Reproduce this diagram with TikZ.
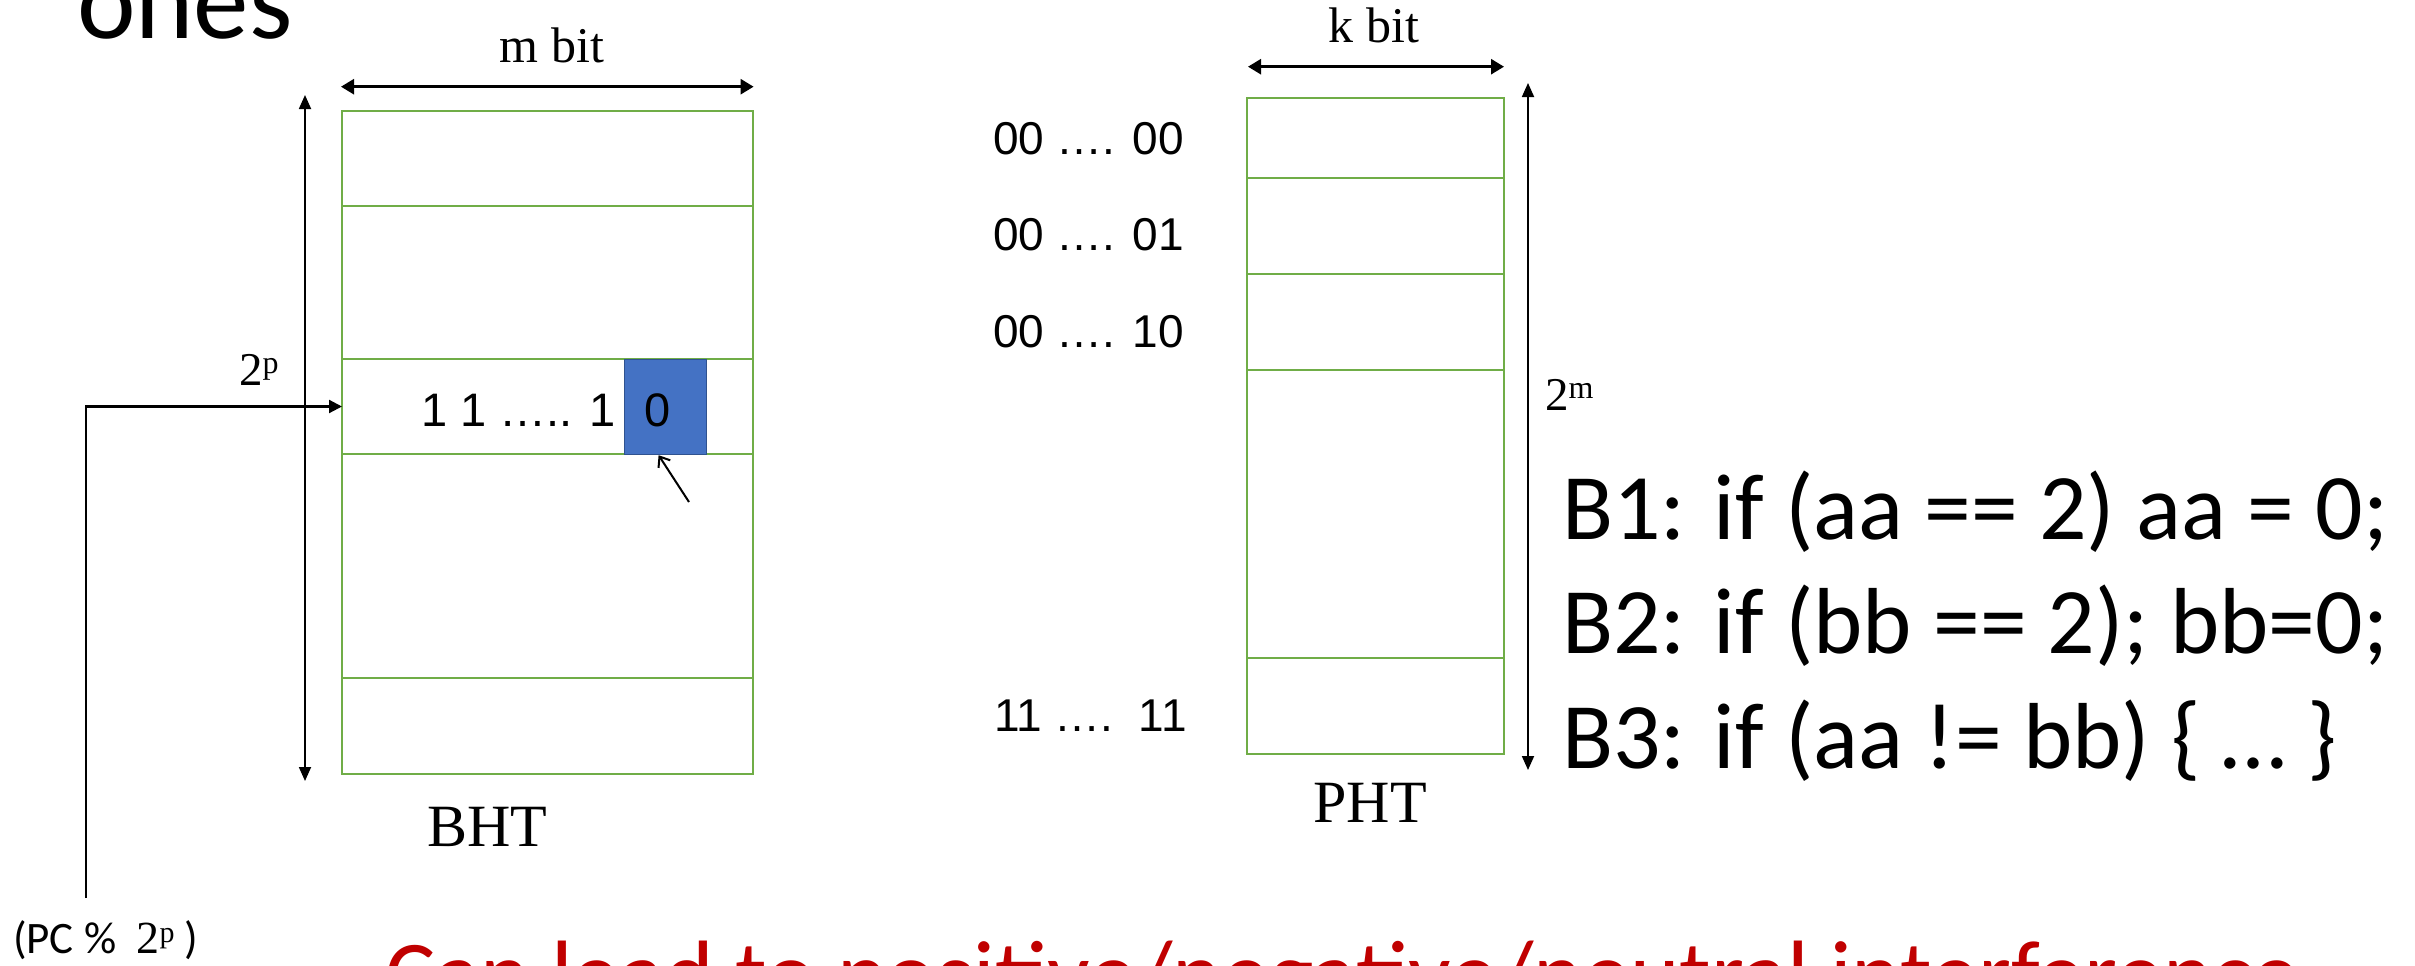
\documentclass[tikz,border=0pt]{standalone}
\usepackage{fontspec}
\usetikzlibrary{arrows.meta}
\newfontfamily\calib{Carlito}
\newfontfamily\arialf{Liberation Sans}
\newfontfamily\cambr{Liberation Serif}
\definecolor{tabgreen}{HTML}{70AD47}
\definecolor{cellblue}{HTML}{4472C4}
\definecolor{celledge}{HTML}{2F528F}
\definecolor{warnred}{HTML}{C00000}
\newcommand\fsz[1]{\fontsize{#1pt}{#1pt}\selectfont}
\begin{document}
\begin{tikzpicture}[x=1pt,y=-1pt,
  txt/.style={inner sep=0pt, outer sep=0pt, anchor=base west},
  ctxt/.style={inner sep=0pt, outer sep=0pt, anchor=base},
  tabrow/.style={draw=tabgreen, line width=2.8pt, inner sep=0pt, outer sep=0pt,
                 anchor=north west, rectangle},
  dimh/.style={line width=2.6pt,
     {Triangle[length=13pt,width=15pt]}-{Triangle[length=13pt,width=15pt]}},
  dimv/.style={line width=1.8pt,
     {Triangle[length=14pt,width=12pt]}-{Triangle[length=14pt,width=12pt]}},
  feed/.style={line width=2.2pt, -{Triangle[length=13pt,width=13pt]}},
  pointer/.style={line width=2pt, -{Straight Barb[length=9pt,width=14pt]}},
  serif/.style={font=\cambr\fsz{#1}},
  sans/.style={font=\arialf\fsz{#1}},
  calibri/.style={font=\calib\fsz{#1}},
]
\useasboundingbox (0,0) rectangle (2415,966);
\clip (0,0) rectangle (2415,966);

% heading fragment
\node[txt, calibri=111] (title) at (77,39) {ones};

% ---------- branch history table ----------
\node[tabrow, minimum width=411pt, minimum height=95pt]  (b1row) at (342,111) {};
\node[tabrow, minimum width=411pt, minimum height=153pt] (b2row) at (342,206) {};
\node[tabrow, minimum width=411pt, minimum height=95pt]  (b3row) at (342,359) {};
\node[tabrow, minimum width=411pt, minimum height=224pt] (b4row) at (342,454) {};
\node[tabrow, minimum width=411pt, minimum height=96pt]  (b5row) at (342,678) {};
\node[fill=cellblue, draw=celledge, line width=1.2pt, anchor=north west,
      minimum width=82pt, minimum height=95pt, inner sep=0pt] (cell0) at (624,359) {};
\node[txt, sans=47] (ones) at (421,426) {1 1 ….. 1};
\node[ctxt, sans=47] (zero) at (658,426) {0};

% width / height dimensions of the BHT
\coordinate (mL) at (341,86.7);
\coordinate (mR) at (753.6,86.7);
\draw[dimh] (mL) -- (mR);
\node[ctxt, serif=50] (mbit) at (552,63) {m bit};
\coordinate (bT) at (305,95);
\coordinate (bB) at (305,781);
\draw[dimv] (bT) -- (bB);
\node[txt, serif=47] (twop) at (239,385) {2\raisebox{12pt}{\fsz{32}p}};
\node[ctxt, serif=60] (bhtlbl) at (487,846) {BHT};

% PC index feeding the selected row
\coordinate (pcfoot) at (85.7,898);
\draw[feed] (pcfoot) |- (b3row.west);
\node[txt] (pclbl) at (13,953)
  {{\calib\fsz{45}(PC \%\ \ }{\cambr\fsz{46}2\raisebox{11pt}{\fsz{30}p}}{\calib\fsz{45}\ )}};

% pointer to the newest history bit
\coordinate (ptr) at (689,502);
\draw[pointer] (ptr) -- ([xshift=-7pt]cell0.south);

% ---------- pattern history table ----------
\node[tabrow, minimum width=257pt, minimum height=80pt]  (p1row) at (1247,98) {};
\node[tabrow, minimum width=257pt, minimum height=96pt]  (p2row) at (1247,178) {};
\node[tabrow, minimum width=257pt, minimum height=96pt]  (p3row) at (1247,274) {};
\node[tabrow, minimum width=257pt, minimum height=288pt] (p4row) at (1247,370) {};
\node[tabrow, minimum width=257pt, minimum height=96pt]  (p5row) at (1247,658) {};

\coordinate (kL) at (1248,66.7);
\coordinate (kR) at (1504,66.7);
\draw[dimh] (kL) -- (kR);
\node[ctxt, serif=50] (kbit) at (1374,43) {k bit};
\coordinate (pT) at (1528,83);
\coordinate (pB) at (1528,770);
\draw[dimv] (pT) -- (pB);
\node[txt, serif=47] (twom) at (1545,410) {2\raisebox{12pt}{\fsz{32}m}};
\node[ctxt, serif=60] (phtlbl) at (1370,822) {PHT};

\node[txt, sans=46] (i00) at (993,154) {00 …. 00};
\node[txt, sans=46] (i01) at (993,250) {00 …. 01};
\node[txt, sans=46] (i10) at (993,347) {00 …. 10};
\node[txt, sans=46] (i11) at (994,731) {11 ….\ \ 11};

% ---------- code fragment ----------
\node[txt, calibri=93.8] (br1) at (1562,539) {B1: if (aa == 2) aa = 0;};
\node[txt, calibri=93.8] (br2) at (1562,653) {B2: if (bb == 2); bb=0;};
\node[txt, calibri=93.8] (br3) at (1562,768) {B3: if (aa != bb) \{ … \}};

% note along the bottom edge
\node[txt, calibri=94.3, text=warnred] (note) at (385,1006)
  {Can lead to positive/negative/neutral interference};
\end{tikzpicture}
\end{document}
